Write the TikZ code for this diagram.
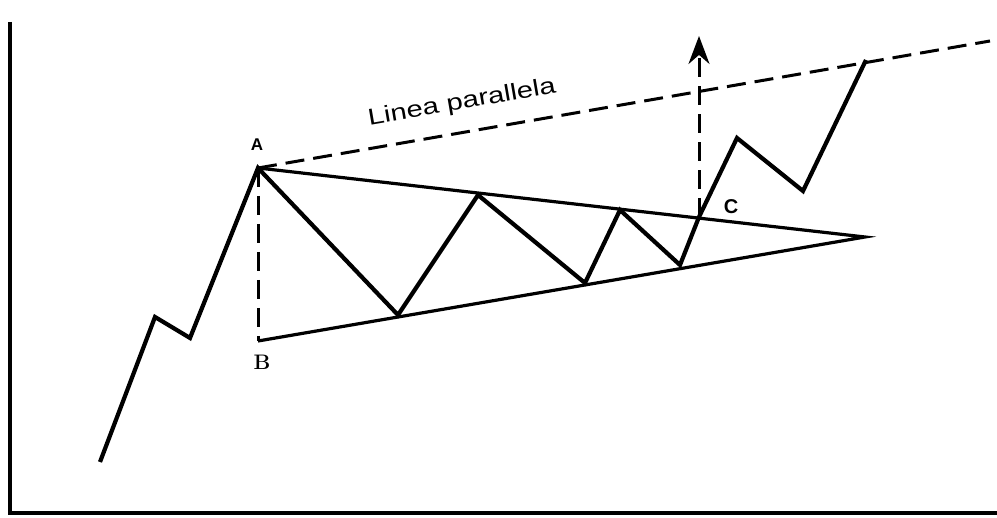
\documentclass[tikz,border=0pt]{standalone}
\usepackage{fontspec}
\setsansfont{Liberation Sans}
\usetikzlibrary{arrows.meta}

\begin{document}
\begin{tikzpicture}[x=1pt,y=-1pt,>=Stealth,
  axis/.style={line width=4pt},
  trend/.style={line width=3.2pt,line join=miter},
  price/.style={line width=4.2pt,line join=miter},
  guide/.style={line width=3pt,dash pattern=on 19pt off 9pt}]
\useasboundingbox (0,0) rectangle (997,518);
% axes
\draw[axis] (10,22) -- (10,513) -- (997,513);
% points of the triangle
\coordinate (A) at (258,168);
\coordinate (B) at (258,341);
\coordinate (D) at (865,237);
\coordinate (C) at (699,217);
\coordinate (E) at (990,41);
\coordinate (T) at (699,36);
% triangle sides
\draw[trend] (A) -- (D) -- (B);
% price swings
\draw[price] (100,462) -- (155,317) -- (190,338) -- (A) -- (398,315)
  -- (478,195) -- (585,283) -- (620,210) -- (680,265) -- (C)
  -- (737,138) -- (803,191) -- (866,60);
% guide lines
\draw[guide] (A) -- (B);
\draw[guide] (A) -- (E);
\draw[guide,->,arrows={-Stealth[length=28pt,width=21pt]}] (C) -- (T);
% labels
\node[font=\sffamily\bfseries\fontsize{17}{17}\selectfont] (lA) at (257,145) {A};
\node[font=\bfseries\fontsize{21}{21}\selectfont] (lB) at (262,362) {B};
\node[font=\sffamily\bfseries\fontsize{20}{20}\selectfont] (lC) at (731,207) {C};
\node[rotate=9.8,font=\sffamily\fontsize{23}{23}\selectfont] (lL) at (462,103)
  {\scalebox{1.27}[1]{Linea parallela}};
\end{tikzpicture}
\end{document}
